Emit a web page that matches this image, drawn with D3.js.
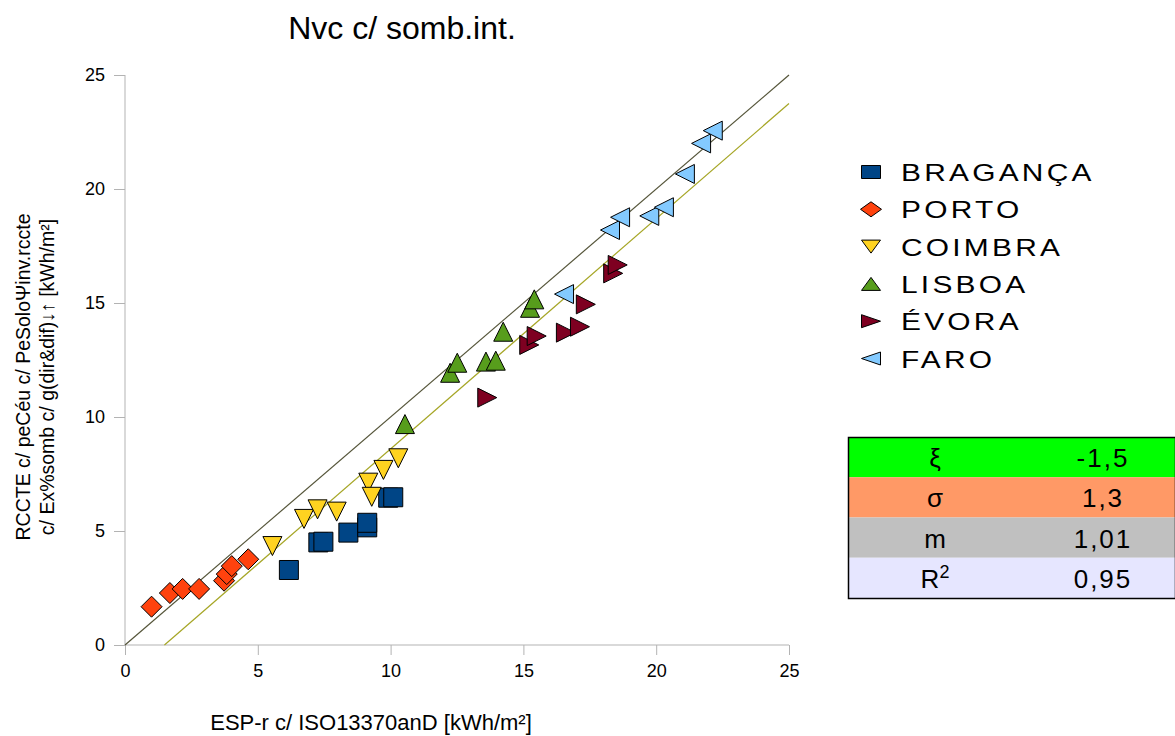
<!DOCTYPE html>
<html><head><meta charset="utf-8">
<script src="https://cdn.jsdelivr.net/npm/d3@7"></script>
<style>body{margin:0;background:#fff;} svg{display:block;font-family:"Liberation Sans",Arial,sans-serif;}</style>
</head><body>
<svg id="c" width="1175" height="736"></svg>
<script>
const seriesNames = ["BRAGANÇA","PORTO","COIMBRA","LISBOA","ÉVORA","FARO"];
const seriesColors = ["#004586","#ff420e","#ffd320","#579d1c","#7e0021","#83caff"];
const seriesShapes = ["square","diamond","down","up","right","left"];
const braganca = [[6.17,3.29],[7.28,4.50],[7.47,4.53],[8.41,4.93],[9.12,5.16],[9.12,5.36],[9.91,6.46],[10.10,6.48]];
const porto = [[1.0,1.68],[1.69,2.28],[2.17,2.46],[2.79,2.46],[3.73,2.82],[3.83,3.11],[4.02,3.46],[4.64,3.76]];
const coimbra = [[5.55,4.34],[6.74,5.53],[7.25,5.95],[7.97,5.85],[9.16,7.12],[9.29,6.50],[9.73,7.68],[10.29,8.19]];
const lisboa = [[10.54,9.69],[12.24,11.94],[12.51,12.38],[13.59,12.43],[13.96,12.47],[14.24,13.74],[15.25,14.79],[15.41,15.16]];
const evora = [[13.64,10.85],[15.22,13.16],[15.50,13.55],[16.60,13.70],[17.13,13.96],[17.35,14.94],[18.38,16.30],[18.55,16.67]];
const faro = [[16.53,15.39],[18.26,18.20],[18.64,18.76],[19.74,18.82],[20.29,19.20],[21.08,20.66],[21.69,22.00],[22.13,22.56]];
const seriesData = [braganca, porto, coimbra, lisboa, evora, faro];
const xTicks = [0,5,10,15,20,25];
const yTicks = [0,5,10,15,20,25];
const refLine = [[0,0],[25,25]];
const fitLine = [[1.485,0],[25,23.75]];
const statLabels = ["ξ","σ","m","R"];
const statValues = ["-1,5","1,3","1,01","0,95"];
const statColors = ["#00ff00","#ff9966","#c0c0c0","#e6e6ff"];

const svg = d3.select("#c");
const x = d3.scaleLinear().domain([0,25]).range([125,789]);
const y = d3.scaleLinear().domain([0,25]).range([645,75]);

// axes
const axisColor = "#b3b3b3";
const gx = svg.append("g").attr("transform","translate(0,645)").call(d3.axisBottom(x).tickValues(xTicks).tickSize(10).tickPadding(9));
const gy = svg.append("g").attr("transform","translate(125,0)").call(d3.axisLeft(y).tickValues(yTicks).tickSize(11).tickPadding(9));
[gx,gy].forEach(g=>{
  g.selectAll("path,line").attr("stroke",axisColor).attr("stroke-width",1);
  g.selectAll("text").attr("font-size",18).attr("fill","#000").attr("font-family","Liberation Sans, Arial, sans-serif");
});
gx.select(".domain").attr("d","M125,0H789");
gy.select(".domain").attr("d","M0,645V75");

// lines
const line = d3.line().x(d=>x(d[0])).y(d=>y(d[1]));
svg.append("path").attr("d",line(refLine)).attr("stroke","#55553a").attr("stroke-width",1.2).attr("fill","none");
svg.append("path").attr("d",line(fitLine)).attr("stroke","#a6a626").attr("stroke-width",1.2).attr("fill","none");

function shapePath(shape, w, hgt){
  const h = w/2, v = (hgt===undefined? w : hgt)/2;
  switch(shape){
    case "square": return `M${-h},${-v}H${h}V${v}H${-h}Z`;
    case "diamond": return `M0,${-v-1}L${h+1},0L0,${v+1}L${-h-1},0Z`;
    case "down": return `M${-h},${-v}L${h},${-v}L0,${v}Z`;
    case "up": return `M0,${-v}L${h},${v}L${-h},${v}Z`;
    case "right": return `M${-h},${-v}L${h},0L${-h},${v}Z`;
    case "left": return `M${h},${-v}L${-h},0L${h},${v}Z`;
  }
}

seriesData.forEach((data,i)=>{
  svg.append("g").selectAll("path").data(data).join("path")
    .attr("transform",d=>`translate(${x(d[0])},${y(d[1])})`)
    .attr("d",shapePath(seriesShapes[i],19))
    .attr("fill",seriesColors[i]).attr("stroke","#000").attr("stroke-width",1);
});

// title
svg.append("text").attr("x",402).attr("y",39).attr("text-anchor","middle").attr("font-size",32).text("Nvc c/ somb.int.");
// x label
svg.append("text").attr("x",371).attr("y",730).attr("text-anchor","middle").attr("font-size",22).text("ESP-r c/ ISO13370anD [kWh/m²]");
// y label
const yl = svg.append("text").attr("transform","translate(0,377) rotate(-90)").attr("text-anchor","middle").attr("font-size",19.5);
yl.append("tspan").attr("x",0).attr("y",30).text("RCCTE c/ peCéu c/ PeSoloΨinv.rccte");
yl.append("tspan").attr("x",0).attr("y",54).text("c/ Ex%somb c/ g(dir&dif)↓↑ [kWh/m²]");

// legend
const lg = svg.append("g");
seriesNames.forEach((n,i)=>{
  const cy = 172 + i*37.3;
  lg.append("path").attr("transform",`translate(871,${cy})`).attr("d",shapePath(seriesShapes[i],19,13))
    .attr("fill",seriesColors[i]).attr("stroke","#000").attr("stroke-width",1);
  lg.append("text").attr("transform",`translate(901,${cy+9}) scale(1.3,1)`).attr("font-size",23).attr("letter-spacing",2.5).text(n);
});

// stats table
const tx0 = 848, tw = 327, ty0 = 437, rh = 40.25;
statLabels.forEach((l,i)=>{
  const ry = ty0 + i*rh;
  svg.append("rect").attr("x",tx0).attr("y",ry).attr("width",tw).attr("height",rh).attr("fill",statColors[i]);
  const t = svg.append("text").attr("x",935).attr("y",ry+30).attr("text-anchor","middle").attr("font-size",26).text(l);
  if(l==="R") t.append("tspan").attr("font-size",18).attr("dy",-10).text("2");
  svg.append("text").attr("x",1103).attr("y",ry+30).attr("text-anchor","middle").attr("font-size",26).attr("letter-spacing",2).text(statValues[i]);
});
svg.append("rect").attr("x",tx0+0.5).attr("y",ty0+0.5).attr("width",tw).attr("height",rh*4).attr("fill","none").attr("stroke","#000").attr("stroke-width",1.5);
</script>
</body></html>
